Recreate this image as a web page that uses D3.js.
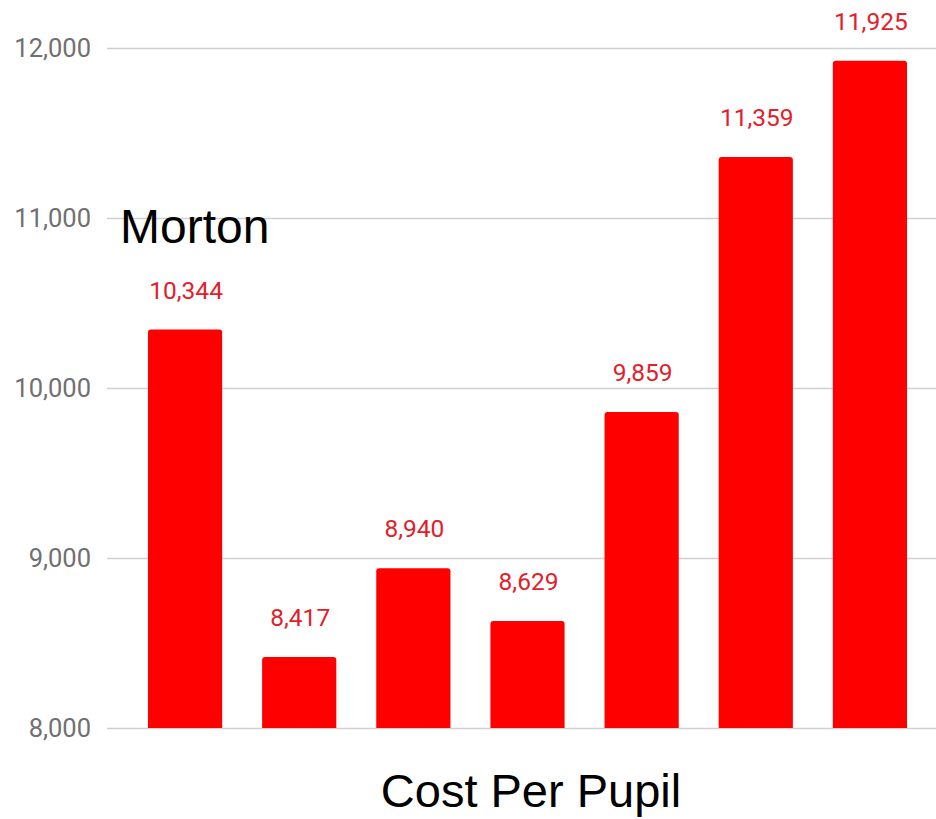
<!DOCTYPE html>
<html>
<head>
<meta charset="utf-8">
<script src="https://cdn.jsdelivr.net/npm/d3@7"></script>
<style>
  body { margin: 0; background: #fff; }
  svg { display: block; }
</style>
</head>
<body>
<svg id="chart" width="936" height="819"></svg>
<script>
var schools = ["Morton", "S2", "S3", "S4", "S5", "S6", "S7"];
var costs = [10344, 8417, 8940, 8629, 9859, 11359, 11925];
var yTicks = [8000, 9000, 10000, 11000, 12000];

var svg = d3.select("#chart");

var x = d3.scaleBand()
  .domain(schools)
  .range([128, 927])
  .paddingInner(0.35)
  .paddingOuter(0.175);

var y = d3.scaleLinear()
  .domain([8000, 12000])
  .range([728, 48]);

var fmt = d3.format(",");

// gridlines + tick labels
var yAxis = d3.axisLeft(y)
  .tickValues(yTicks)
  .tickFormat(fmt)
  .tickSize(-(936 - 107))
  .tickPadding(16);

var gy = svg.append("g")
  .attr("transform", "translate(107,0)")
  .call(yAxis);
gy.select(".domain").remove();
gy.selectAll(".tick line")
  .attr("stroke", "#d0d0d0")
  .attr("stroke-width", 1.5);
gy.selectAll(".tick text")
  .attr("fill", "#707070")
  .attr("font-family", "Roboto, sans-serif")
  .attr("font-size", 25.5);

// bars with slightly rounded tops
function barPath(d) {
  var x0 = x(d.name), w = x.bandwidth(), y0 = y(d.cost), y1 = y(8000), r = 3;
  return "M" + x0 + "," + y1 +
    "V" + (y0 + r) +
    "Q" + x0 + "," + y0 + " " + (x0 + r) + "," + y0 +
    "H" + (x0 + w - r) +
    "Q" + (x0 + w) + "," + y0 + " " + (x0 + w) + "," + (y0 + r) +
    "V" + y1 + "Z";
}

var rows = schools.map(function(s, i) { return { name: s, cost: costs[i] }; });

svg.append("g")
  .selectAll("path")
  .data(rows)
  .join("path")
  .attr("d", barPath)
  .attr("fill", "#ff0000");

svg.append("g")
  .selectAll("text")
  .data(rows)
  .join("text")
  .attr("x", d => x(d.name) + x.bandwidth() / 2 + 1)
  .attr("y", d => y(d.cost) - 31)
  .attr("text-anchor", "middle")
  .attr("fill", "#e3202a")
  .attr("font-family", "Roboto, sans-serif")
  .attr("font-size", 24.5)
  .text(d => fmt(d.cost));

svg.append("text")
  .attr("x", 120)
  .attr("y", 243)
  .attr("font-family", "'Liberation Sans', Arial, sans-serif")
  .attr("font-size", 48)
  .attr("fill", "#000")
  .text("Morton");

svg.append("text")
  .attr("x", 531)
  .attr("y", 807)
  .attr("text-anchor", "middle")
  .attr("font-family", "'Liberation Sans', Arial, sans-serif")
  .attr("font-size", 47)
  .attr("fill", "#000")
  .text("Cost Per Pupil");
</script>
</body>
</html>
